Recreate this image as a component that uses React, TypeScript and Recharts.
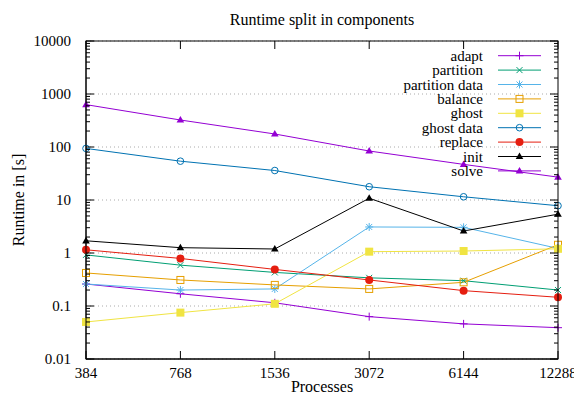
import React from "react";
import { LineChart, Line, XAxis, YAxis, CartesianGrid, Legend } from "recharts";

const processes = ["384", "768", "1536", "3072", "6144", "12288"];

const adapt = [0.26, 0.17, 0.115, 0.063, 0.046, 0.039];
const partition = [0.92, 0.59, 0.43, 0.34, 0.3, 0.2];
const partitionData = [0.26, 0.2, 0.21, 3.1, 3.05, 1.22];
const balance = [0.42, 0.31, 0.25, 0.21, 0.28, 1.43];
const ghost = [0.05, 0.075, 0.11, 1.06, 1.09, 1.2];
const ghostData = [94, 54, 36, 17.8, 11.5, 7.8];
const replace = [1.15, 0.79, 0.49, 0.31, 0.195, 0.146];
const init = [1.7, 1.26, 1.19, 10.8, 2.6, 5.4];
const solve = [630, 323, 176, 84, 47, 27];

const yTicks = [0.01, 0.1, 1, 10, 100, 1000, 10000];

// minor ticks 2..9 in every decade
const yMinor: number[] = [];
for (let d = 0; d < yTicks.length - 1; d++) {
  for (let m = 2; m <= 9; m++) yMinor.push(+(yTicks[d] * m).toPrecision(3));
}
const Y_MIN = yTicks[0];
const Y_MAX = yTicks[yTicks.length - 1];

const series = [
  { key: "adapt", name: "adapt", color: "#9400d3", shape: "plus", values: adapt },
  { key: "partition", name: "partition", color: "#009e73", shape: "cross", values: partition },
  { key: "partitionData", name: "partition data", color: "#56b4e9", shape: "star", values: partitionData },
  { key: "balance", name: "balance", color: "#e69f00", shape: "square", values: balance },
  { key: "ghost", name: "ghost", color: "#f0e442", shape: "fsquare", values: ghost },
  { key: "ghostData", name: "ghost data", color: "#0072b2", shape: "circle", values: ghostData },
  { key: "replace", name: "replace", color: "#e51e10", shape: "fcircle", values: replace },
  { key: "init", name: "init", color: "#000000", shape: "triangle", values: init },
  { key: "solve", name: "solve", color: "#9400d3", shape: "triangle", values: solve },
];

const data = processes.map((p, i) => {
  const row: Record<string, any> = { p };
  series.forEach((s) => (row[s.key] = s.values[i]));
  return row;
});

const FONT = "Liberation Serif";
const tickStyle = { fontSize: 15, fill: "#000", fontFamily: FONT };

const CHART_W = 574;
const CHART_H = 384;
const MARGIN = { top: 33, right: 24, bottom: 8, left: 6 };
const YAXIS_W = 72;
const XAXIS_H = 25;

// plot box, derived from the chart margins and axis sizes
const PLOT = {
  left: MARGIN.left + YAXIS_W,
  right: CHART_W - MARGIN.right,
  top: MARGIN.top,
  bottom: CHART_H - MARGIN.bottom - XAXIS_H,
};

function Marker({ shape, cx, cy, color }: { shape: string; cx: number; cy: number; color: string }) {
  switch (shape) {
    case "plus":
      return <path d={`M${cx - 4},${cy}H${cx + 4}M${cx},${cy - 4}V${cy + 4}`} stroke={color} strokeWidth={1} fill="none" />;
    case "cross":
      return (
        <path
          d={`M${cx - 3},${cy - 3}L${cx + 3},${cy + 3}M${cx - 3},${cy + 3}L${cx + 3},${cy - 3}`}
          stroke={color}
          strokeWidth={1}
          fill="none"
        />
      );
    case "star":
      return (
        <path
          d={`M${cx - 4},${cy}H${cx + 4}M${cx},${cy - 4}V${cy + 4}M${cx - 3},${cy - 3}L${cx + 3},${cy + 3}M${cx - 3},${cy + 3}L${cx + 3},${cy - 3}`}
          stroke={color}
          strokeWidth={1}
          fill="none"
        />
      );
    case "square":
      return <rect x={cx - 3.5} y={cy - 3.5} width={7} height={7} stroke={color} strokeWidth={1} fill="none" />;
    case "fsquare":
      return <rect x={cx - 4} y={cy - 4} width={8} height={8} fill={color} />;
    case "circle":
      return <circle cx={cx} cy={cy} r={3.3} stroke={color} strokeWidth={1} fill="none" />;
    case "fcircle":
      return <circle cx={cx} cy={cy} r={4} fill={color} />;
    default:
      return <polygon points={`${cx},${cy - 4} ${cx + 3.8},${cy + 2.6} ${cx - 3.8},${cy + 2.6}`} fill={color} />;
  }
}

// gnuplot-style frame with inward ticks on all four sides
function Frame() {
  const span = Math.log10(Y_MAX) - Math.log10(Y_MIN);
  const yPos = (v: number) => PLOT.top + ((Math.log10(Y_MAX) - Math.log10(v)) / span) * (PLOT.bottom - PLOT.top);
  const xPos = (i: number) => PLOT.left + (i * (PLOT.right - PLOT.left)) / (processes.length - 1);
  let d = "";
  [...yTicks, ...yMinor].forEach((v) => {
    const len = yTicks.includes(v) ? 8 : 4;
    const y = yPos(v);
    d += `M${PLOT.left},${y}H${PLOT.left + len}M${PLOT.right - len},${y}H${PLOT.right}`;
  });
  processes.forEach((_, i) => {
    const x = xPos(i);
    d += `M${x},${PLOT.top}V${PLOT.top + 8}M${x},${PLOT.bottom}V${PLOT.bottom - 8}`;
  });
  return (
    <svg
      width={CHART_W}
      height={CHART_H}
      style={{ position: "absolute", left: 0, top: 0, pointerEvents: "none" }}
    >
      <rect
        x={PLOT.left}
        y={PLOT.top}
        width={PLOT.right - PLOT.left}
        height={PLOT.bottom - PLOT.top}
        fill="none"
        stroke="#000"
        strokeWidth={1}
      />
      <path d={d} stroke="#000" strokeWidth={1} fill="none" />
    </svg>
  );
}

const renderLegend = () => (
  <svg width={180} height={140}>
    {series.map((s, i) => {
      const y = 11.7 + i * 14.4;
      return (
        <g key={s.key}>
          <text x={105} y={y + 5} textAnchor="end" fontFamily={FONT} fontSize={15} fill="#000">
            {s.name}
          </text>
          <line x1={120} x2={163} y1={y} y2={y} stroke={s.color} strokeWidth={1} />
          <Marker shape={s.shape} cx={141.5} cy={y} color={s.color} />
        </g>
      );
    })}
  </svg>
);

const textStyle: React.CSSProperties = {
  position: "absolute",
  whiteSpace: "nowrap",
  fontSize: 16,
  lineHeight: "18px",
};

export default function App() {
  return (
    <div style={{ position: "relative", width: CHART_W, height: CHART_H, fontFamily: FONT, color: "#000" }}>
      <div style={{ ...textStyle, left: 314, top: 3, transform: "translateX(-50%)" }}>Runtime split in components</div>
      <div style={{ ...textStyle, left: 11, top: 192, transform: "translate(-50%, -50%) rotate(-90deg)" }}>Runtime in [s]</div>
      <div style={{ ...textStyle, left: 314, top: 370, transform: "translateX(-50%)" }}>Processes</div>

      <LineChart width={CHART_W} height={CHART_H} data={data} margin={MARGIN}>
        <CartesianGrid yAxisId="y" xAxisId="x" vertical={false} stroke="#aaaaaa" strokeDasharray="1 3" />

        <XAxis
          xAxisId="x"
          dataKey="p"
          type="category"
          height={XAXIS_H}
          stroke="#000"
          tickLine={false}
          tickSize={0}
          tickMargin={8}
          interval={0}
          tick={tickStyle}
        />
        <YAxis
          yAxisId="y"
          scale="log"
          domain={[Y_MIN, Y_MAX]}
          ticks={yTicks}
          interval={0}
          tickFormatter={(v: number) => String(v)}
          width={YAXIS_W}
          stroke="#000"
          tickLine={false}
          tickSize={0}
          tickMargin={15}
          tick={tickStyle}
        />

        <Legend
          layout="vertical"
          align="center"
          verticalAlign="middle"
          content={renderLegend}
          wrapperStyle={{ position: "absolute", left: 370, top: 36, width: 180, height: 140 }}
        />

        {series.map((s) => (
          <Line
            key={s.key}
            xAxisId="x"
            yAxisId="y"
            type="linear"
            dataKey={s.key}
            name={s.name}
            stroke={s.color}
            strokeWidth={1}
            isAnimationActive={false}
            dot={(p: any) => <Marker key={`${s.key}-${p.index}`} shape={s.shape} cx={p.cx} cy={p.cy} color={s.color} />}
            activeDot={false}
          />
        ))}
      </LineChart>

      <Frame />
    </div>
  );
}
